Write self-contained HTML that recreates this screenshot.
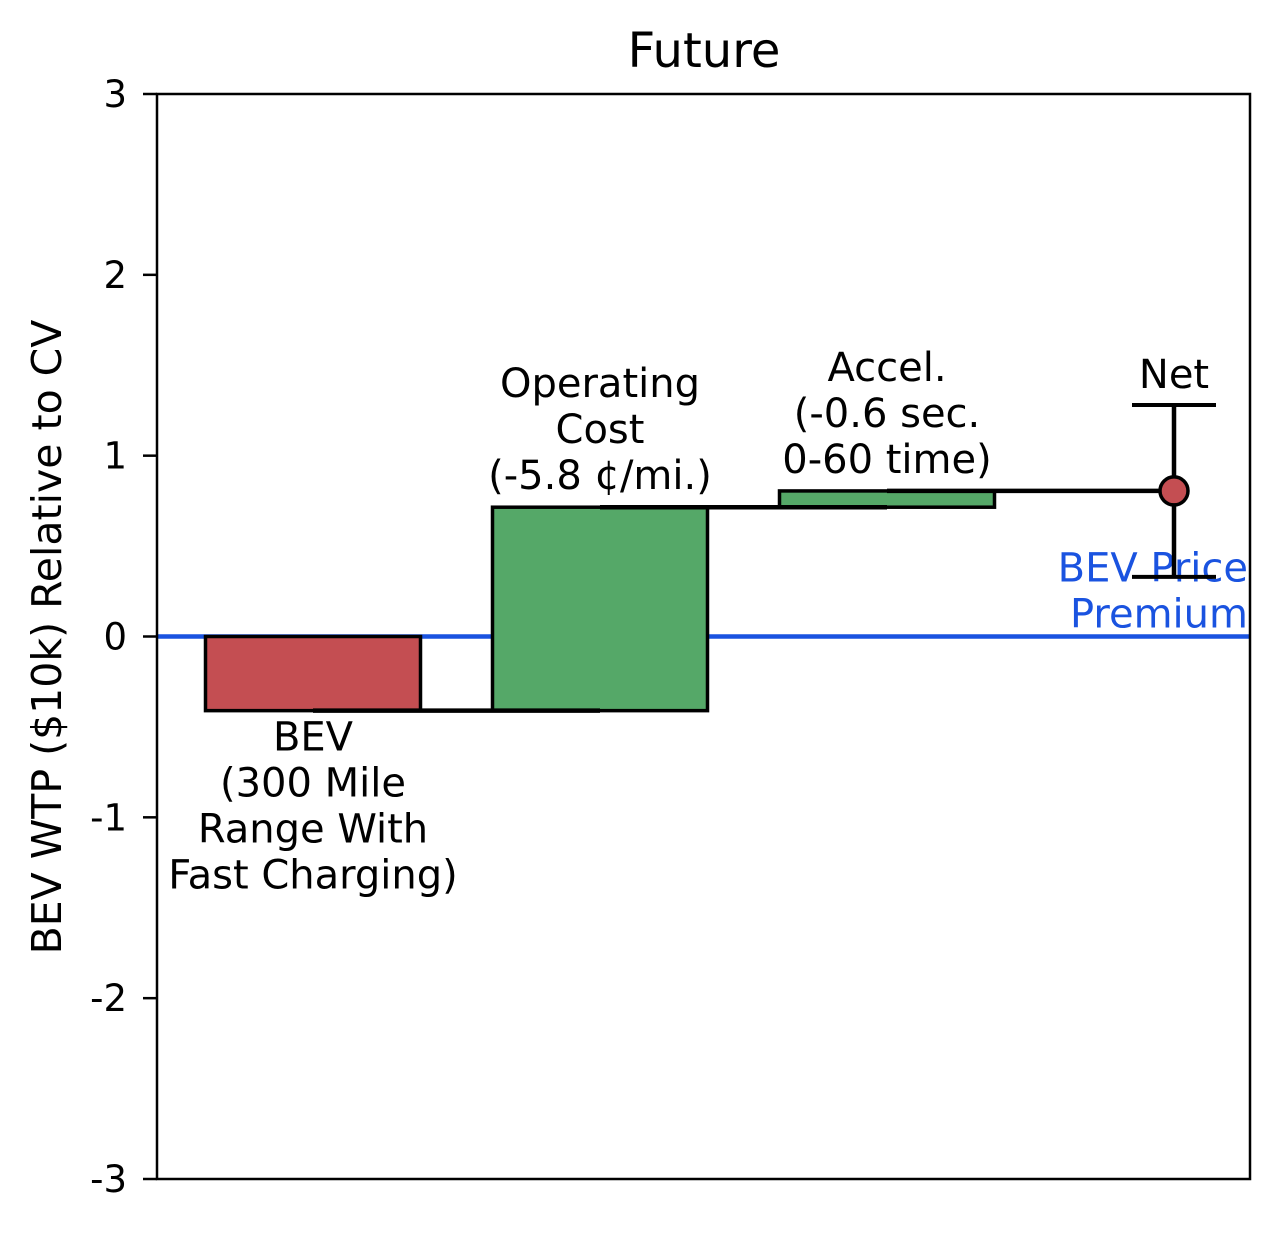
<!DOCTYPE html>
<html><head><meta charset="utf-8"><style>
html,body{margin:0;padding:0;background:#fff;}
svg text{font-family:"DejaVu Sans","Liberation Sans",sans-serif;}
</style></head><body>
<svg id="chart" width="1280" height="1233" viewBox="0 0 1280 1233" xmlns="http://www.w3.org/2000/svg">
<rect x="0" y="0" width="1280" height="1233" fill="#fff"/>
<text x="704" y="67" style="font-size:48px" text-anchor="middle">Future</text>
<text transform="translate(61,637) rotate(-90)" style="font-size:41px" text-anchor="middle">BEV WTP ($10k) Relative to CV</text>
<g id="ticks"></g>
<g id="marks"></g>
<rect x="157" y="94" width="1093" height="1085" fill="none" stroke="#000" stroke-width="2.5"/>
</svg>
<script>
const categories = ["BEV", "Operating Cost", "Accel.", "Net"];
const deltas = [-0.41, 1.125, 0.09];
const netValue = 0.805;
const netErrHigh = 1.28;
const netErrLow = 0.33;
const yTicks = [-3, -2, -1, 0, 1, 2, 3];
const yTickLabels = ["-3", "-2", "-1", "0", "1", "2", "3"];
const barColors = ["#c44e52", "#55a868", "#55a868"];

const NS = "http://www.w3.org/2000/svg";
const top0 = 94, bot0 = 1179, yMin = -3, yMax = 3;
function yS(v){ return bot0 - (v - yMin) / (yMax - yMin) * (bot0 - top0); }
function xS(i){ return 313 + 287 * i; }
const halfW = 107.5;
function mk(tag, attrs, parent){ const e = document.createElementNS(NS, tag); for (const k in attrs) e.setAttribute(k, attrs[k]); parent.appendChild(e); return e; }

const ticks = document.getElementById('ticks');
yTicks.forEach((t, i) => {
  const l = mk('line', {x1:143, x2:157, y1:yS(t), y2:yS(t), stroke:'#000', 'stroke-width':2.5}, ticks);
  
  
  const tx = mk('text', {x:127, y:yS(t)+13, style:'font-size:37px', 'text-anchor':'end'}, ticks);
  tx.textContent = yTickLabels[i];
  
  
});

const g = document.getElementById('marks');
const zero = mk('line', {x1:157, x2:1250, y1:yS(0), y2:yS(0), stroke:'#1a53e0', 'stroke-width':4.5}, g);



function label(lines, x, yBase, anchor, color, name, lh){
  const t = mk('text', {x:x, y:yBase, style:'font-size:40px', 'text-anchor':anchor, fill:color}, g);
  
  
  lines.forEach((s, i) => { const ts = mk('tspan', {x:x, dy: i ? lh : 0}, t); ts.textContent = s; });
}

let cum = 0;
const levels = [];
deltas.forEach((d, i) => {
  const a = cum, b = cum + d;
  const r = mk('rect', {x:xS(i)-halfW, y:yS(Math.max(a,b)), width:2*halfW, height:Math.abs(yS(a)-yS(b)), fill:barColors[i], stroke:'#000', 'stroke-width':3.5}, g);
  
  
  cum = b;
  levels.push(b);
});
levels.forEach((v, i) => {
  const c = mk('line', {x1:xS(i), x2:xS(i+1), y1:yS(v), y2:yS(v), stroke:'#000', 'stroke-width':4.5}, g);
  
  
});

label(["BEV","(300 Mile","Range With","Fast Charging)"], xS(0), yS(levels[0])+40, 'middle', '#000', 'bev-label', 46);
label(["Operating","Cost","(-5.8 ¢/mi.)"], xS(1), yS(levels[1])-110, 'middle', '#000', 'operating-cost-label', 46);
label(["Accel.","(-0.6 sec.","0-60 time)"], xS(2), yS(levels[2])-110, 'middle', '#000', 'accel-label', 46);
label(["Net"], xS(3), yS(netErrHigh)-17, 'middle', '#000', 'net-label', 46);
label(["BEV Price","Premium"], 1248, yS(0)-55, 'end', '#1a53e0', 'bev-price-premium-label', 46);

const eb = mk('line', {x1:xS(3), x2:xS(3), y1:yS(netErrHigh), y2:yS(netErrLow), stroke:'#000', 'stroke-width':4.5}, g);


[netErrHigh, netErrLow].forEach(v => {
  const cp = mk('line', {x1:xS(3)-42, x2:xS(3)+42, y1:yS(v), y2:yS(v), stroke:'#000', 'stroke-width':4}, g);
  
  
});
const pt = mk('circle', {cx:xS(3), cy:yS(netValue), r:14, fill:'#c44e52', stroke:'#000', 'stroke-width':3.5}, g);


</script>
</body></html>
